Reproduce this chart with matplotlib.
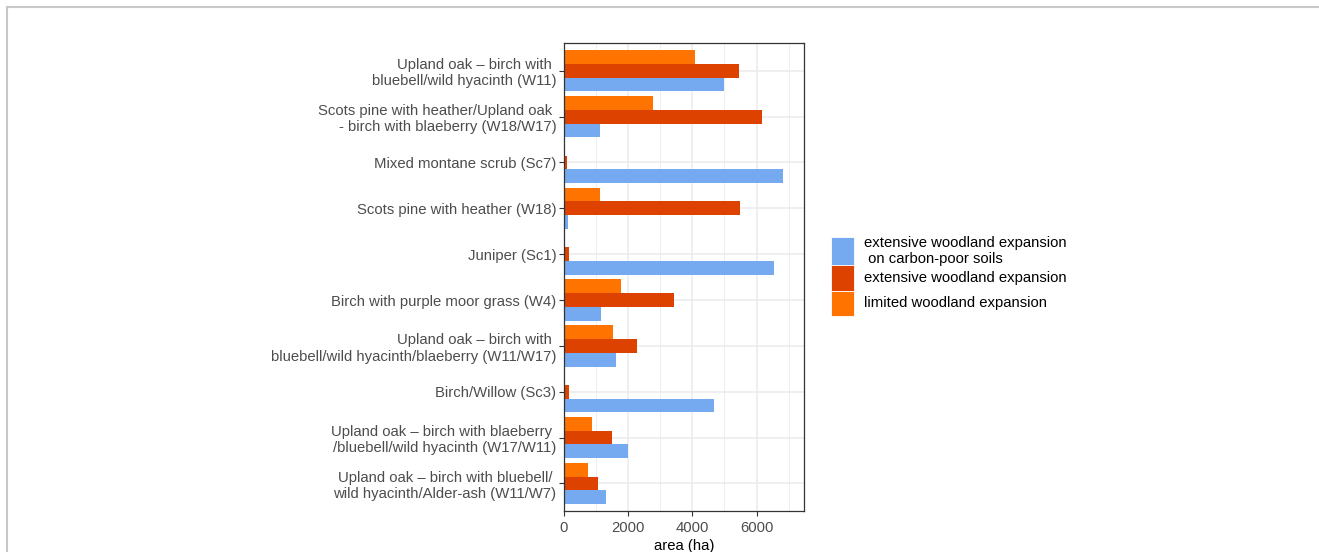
import numpy as np
import matplotlib
matplotlib.use("Agg")
import matplotlib.pyplot as plt
from matplotlib.patches import Rectangle
from matplotlib.lines import Line2D

plt.rcParams['font.family'] = ['Liberation Sans', 'DejaVu Sans']

# woodland types, top to bottom
habitats = [
    "Upland oak \u2013 birch with \nbluebell/wild hyacinth (W11)",
    "Scots pine with heather/Upland oak \n- birch with blaeberry (W18/W17)",
    "Mixed montane scrub (Sc7)",
    "Scots pine with heather (W18)",
    "Juniper (Sc1)",
    "Birch with purple moor grass (W4)",
    "Upland oak \u2013 birch with \nbluebell/wild hyacinth/blaeberry (W11/W17)",
    "Birch/Willow (Sc3)",
    "Upland oak \u2013 birch with blaeberry \n/bluebell/wild hyacinth (W17/W11)",
    "Upland oak \u2013 birch with bluebell/ \nwild hyacinth/Alder-ash (W11/W7)",
]

# area (ha) per scenario
carbon_poor = [4980, 1120, 6810, 135, 6530, 1150, 1630, 4680, 1995, 1300]
extensive = [5450, 6165, 100, 5480, 165, 3425, 2265, 145, 1485, 1070]
limited = [4090, 2780, 30, 1120, 0, 1775, 1515, 30, 860, 735]

scenarios = [
    "extensive woodland expansion\n on carbon-poor soils",
    "extensive woodland expansion",
    "limited woodland expansion",
]
colors = ["#76AAF0", "#DE4200", "#FF7300"]

fig = plt.figure(figsize=(13.19, 5.52), dpi=100)
ax = fig.add_axes([0.4276, 0.0743, 0.1822, 0.8473])

n = len(habitats)
ypos = np.arange(n)[::-1]
w = 0.3
for i, vals in enumerate([carbon_poor, extensive, limited]):
    ax.barh(ypos + (i - 1) * w, vals, height=w, color=colors[i], zorder=2)

ax.set_xlim(0, 7490)
ax.set_ylim(-0.6, n - 0.4)
ax.set_yticks(ypos)
ax.set_yticklabels(habitats)
ax.set_xticks([0, 2000, 4000, 6000])
ax.set_xticks([1000, 3000, 5000, 7000], minor=True)

ax.grid(True, which='major', color='#EBEBEB', linewidth=1.1, zorder=0)
ax.grid(True, which='minor', axis='x', color='#EBEBEB', linewidth=0.6, zorder=0)
ax.set_axisbelow(True)
for s in ax.spines.values():
    s.set_color('#333333')
    s.set_linewidth(0.9)

ax.tick_params(axis='both', which='major', length=3.5, width=0.8, color='#333333',
               labelsize=10.7, labelcolor='#4D4D4D', pad=2)
ax.tick_params(axis='x', which='major', pad=3.5)
ax.tick_params(axis='both', which='minor', length=0)
ax.set_xlabel("area (ha)", fontsize=10.7, color='black', labelpad=3)

# legend keys
W, H = 1319.0, 552.0
keys = [(237.3, 265.0), (265.0, 290.7), (290.7, 315.7)]
for (y0, y1), c, lab in zip(keys, colors, scenarios):
    fig.patches.append(Rectangle((830.7 / W, 1 - y1 / H), 23.6 / W, (y1 - y0) / H,
                                 transform=fig.transFigure, facecolor=c,
                                 edgecolor='white', linewidth=0.6))
    fig.text(864 / W, 1 - (y0 + y1) / 2 / H, lab, fontsize=10.7, va='center',
             ha='left', color='black', linespacing=1.2)

# thin frame along top and left edge
fig.add_artist(Line2D([7 / W, 1], [1 - 7.3 / H, 1 - 7.3 / H],
                      transform=fig.transFigure, color='#C8C8C8', linewidth=1.5))
fig.add_artist(Line2D([7 / W, 7 / W], [0, 1 - 7.3 / H],
                      transform=fig.transFigure, color='#C8C8C8', linewidth=1.5))

fig.savefig("out.png", dpi=100, facecolor='white')
